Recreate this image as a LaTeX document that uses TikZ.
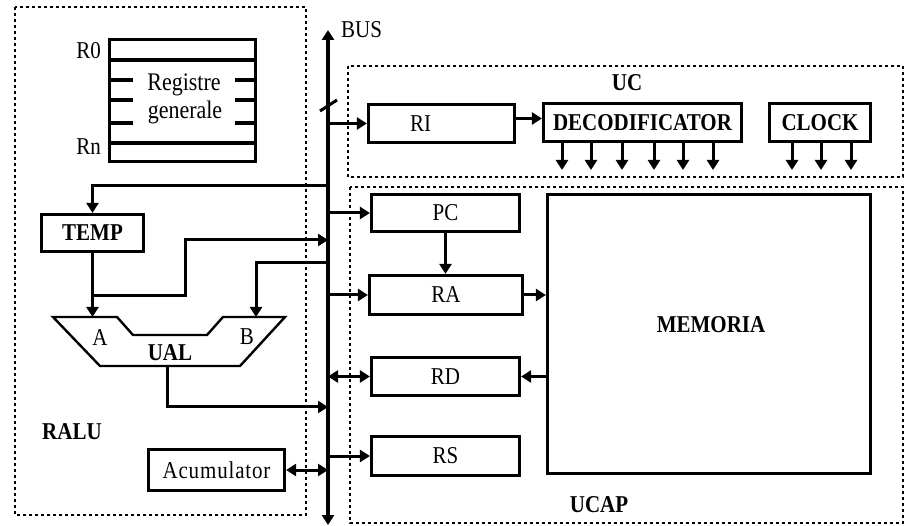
\documentclass[tikz,border=0pt]{standalone}
\usepackage{fontspec}
\usepackage{graphicx}
\setmainfont{Liberation Serif}
\usetikzlibrary{arrows.meta}
% text set slightly taller than the plain face
\newcommand\tall[1]{\scalebox{1}[1.15]{#1}}
\begin{document}
\begin{tikzpicture}[x=1pt,y=-1pt,
  tip/.tip={Triangle[length=10pt,width=12pt]},
  reg/.style={draw, line width=3.2pt, inner sep=0pt, font=\fontsize{21}{25}\selectfont},
  breg/.style={reg, font=\fontsize{21}{25}\selectfont\bfseries},
  wire/.style={line width=3pt},
  arr/.style={wire, -tip},
  darr/.style={wire, tip-tip},
  zone/.style={draw, line width=1.4pt, dash pattern=on 3pt off 3pt},
  lbl/.style={font=\fontsize{21}{25}\selectfont, inner sep=0pt},
  blbl/.style={font=\fontsize{21}{25}\selectfont\bfseries, inner sep=0pt}]
\useasboundingbox (0,0) rectangle (905,526);

% dotted zones
\draw[zone] (15,7) rectangle (306,515);
\draw[zone] (348,66) rectangle (903,177);
\draw[zone] (350,187) rectangle (903,523);

% system bus
\coordinate (busTop) at (328,30);
\coordinate (busBot) at (328,525);
\draw[line width=3.4pt, tip-tip] (busBot) -- (busTop);
\draw[wire] (320,111) -- (337,100);
\node[lbl, anchor=west] (buslbl) at (341,30) {\tall{BUS}};

% general registers
\node[reg, minimum width=146pt, minimum height=122pt] (gpr) at (182.5,100.5) {};
\draw[line width=3.2pt] (gpr.west |- 0,60) -- (gpr.east |- 0,60);
\draw[line width=3.2pt] (gpr.west |- 0,143) -- (gpr.east |- 0,143);
\foreach \y in {80,100,123}{
  \draw[line width=3.2pt] (gpr.west |- 0,\y) -- ++(25,0);
  \draw[line width=3.2pt] (gpr.east |- 0,\y) -- ++(-22,0);
}
\node[lbl, font=\fontsize{22}{27}\selectfont] (gprtxt1) at (184,85) {\tall{Registre}};
\node[lbl, font=\fontsize{22}{27}\selectfont] (gprtxt2) at (185,112) {\tall{generale}};
\node[lbl, anchor=east] (r0) at (101,51) {\tall{R0}};
\node[lbl, anchor=east] (rn) at (101,147) {\tall{Rn}};

% RALU
\node[breg, minimum width=102pt, minimum height=37pt] (temp) at (92.5,233) {\tall{TEMP}};
\draw[line width=2.4pt] (53,317) -- (117,317) -- (133,335) -- (207,335) -- (223,317)
  -- (285,317) -- (240,366) -- (100,366) -- cycle;
\coordinate (ualA) at (92,317);
\coordinate (ualB) at (256,317);
\coordinate (ualOut) at (167,366);
\node[lbl] (la) at (100,338) {\tall{A}};
\node[lbl] (lb) at (247,337) {\tall{B}};
\node[blbl] (ual) at (170,353) {\tall{UAL}};
\node[blbl] (ralu) at (72,432) {\tall{RALU}};
\node[reg, minimum width=136pt, minimum height=41pt] (acc) at (216.5,470)
  {\tall{\addfontfeature{LetterSpace=4}Acumulator}};

\draw[arr] (busTop |- 0,186) -| (temp.north);
\draw[arr] (temp.south) -- (temp.south |- ualA);
\draw[arr] (temp.south |- 0,296) -- (185,296) -- (185,240) -- (busTop |- 0,240);
\draw[arr] (busTop |- 0,263) -| (ualB);
\draw[arr] (ualOut) |- (busTop |- 0,407);
\draw[darr] (acc.east) -- (acc.east -| busTop);

% UC
\node[blbl] (uc) at (627,83) {\tall{UC}};
\node[reg, minimum width=146pt, minimum height=38pt] (ri) at (441.5,123.5) {\hspace*{-42pt}\tall{RI}};
\node[breg, minimum width=198pt, minimum height=38pt] (dec) at (642.5,122.5) {\tall{DECODIFICATOR}};
\node[breg, minimum width=101pt, minimum height=38pt] (clk) at (820,122.5) {\tall{CLOCK}};
\draw[arr] (busTop |- ri.west) -- (ri.west);
\draw[arr] ([yshift=5pt]ri.east) -- ([yshift=5pt]ri.east -| dec.west);
\foreach \x in {562,591,622,654,683,713}
  \draw[arr] (\x,0 |- dec.south) -- (\x,170);
\foreach \x in {792,821,851}
  \draw[arr] (\x,0 |- clk.south) -- (\x,170);

% UCAP
\node[reg, minimum width=148pt, minimum height=37pt] (pc) at (445.5,213) {\tall{PC}};
\node[reg, minimum width=153pt, minimum height=39pt] (ra) at (446,295) {\tall{RA}};
\node[reg, minimum width=148pt, minimum height=38pt] (rd) at (445.5,376.5) {\tall{RD}};
\node[reg, minimum width=148pt, minimum height=39pt] (rs) at (445.5,456) {\tall{RS}};
\node[reg, minimum width=323pt, minimum height=279pt] (mem) at (709,334) {};
\node[blbl] (memlbl) at (711,325) {\tall{MEMORIA}};
\node[blbl] (ucap) at (599,505) {\tall{UCAP}};

\draw[arr] (busTop |- pc.west) -- (pc.west);
\draw[arr] (pc.south) -- (pc.south |- ra.north);
\draw[arr] (busTop |- ra.west) -- (ra.west);
\draw[arr] (ra.east) -- (ra.east -| mem.west);
\draw[darr] (busTop |- rd.west) -- (rd.west);
\draw[arr] (rd.east -| mem.west) -- (rd.east);
\draw[arr] (busTop |- rs.west) -- (rs.west);
\end{tikzpicture}
\end{document}
